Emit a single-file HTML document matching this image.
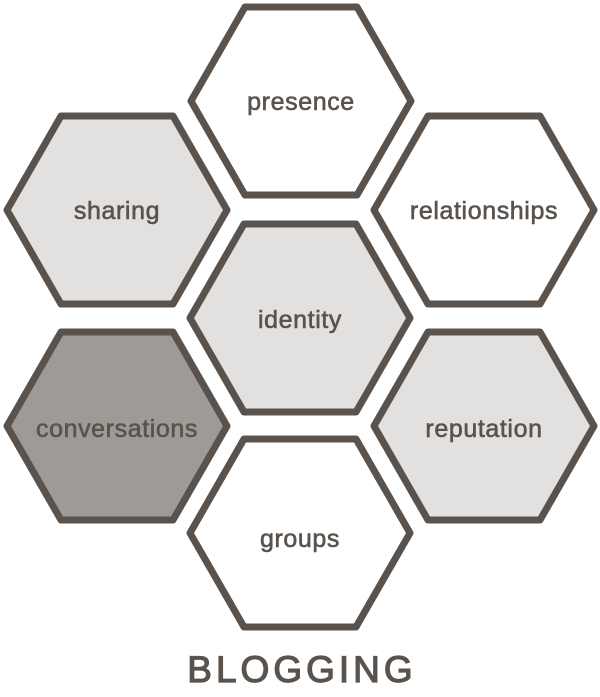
<!DOCTYPE html>
<html><head><meta charset="utf-8"><style>
html,body{margin:0;padding:0;background:#fff}
svg{display:block}
text{font-family:"Liberation Sans",sans-serif;fill:#5a534d;text-anchor:middle}
</style></head><body>
<svg width="600" height="697" viewBox="0 0 600 697" xmlns="http://www.w3.org/2000/svg">
<defs>
<polygon id="h" points="-56,-94 56,-94 110,0 56,94 -56,94 -110,0" stroke="#5a534d" stroke-width="7" stroke-linejoin="round"/>
</defs>
<use href="#h" x="301" y="101" fill="#fff"/>
<use href="#h" x="117" y="210" fill="#e2e1df"/>
<use href="#h" x="484" y="210" fill="#fff"/>
<use href="#h" x="300" y="318" fill="#e2e1df"/>
<use href="#h" x="117" y="426" fill="#a09a96"/>
<use href="#h" x="484" y="426" fill="#e2e1df"/>
<use href="#h" x="300" y="533" fill="#fff"/>
<g font-size="25" letter-spacing="0.6" stroke="#5a534d" stroke-width="0.6">
<text x="301" y="110">presence</text>
<text x="117" y="219">sharing</text>
<text x="484" y="219">relationships</text>
<text x="300" y="328">identity</text>
<text x="117" y="437">conversations</text>
<text x="484" y="437">reputation</text>
<text x="300" y="547">groups</text>
</g>
<text x="302" y="682" font-size="37" letter-spacing="4" stroke="#5a534d" stroke-width="1.2">BLOGGING</text>
</svg>
</body></html>
